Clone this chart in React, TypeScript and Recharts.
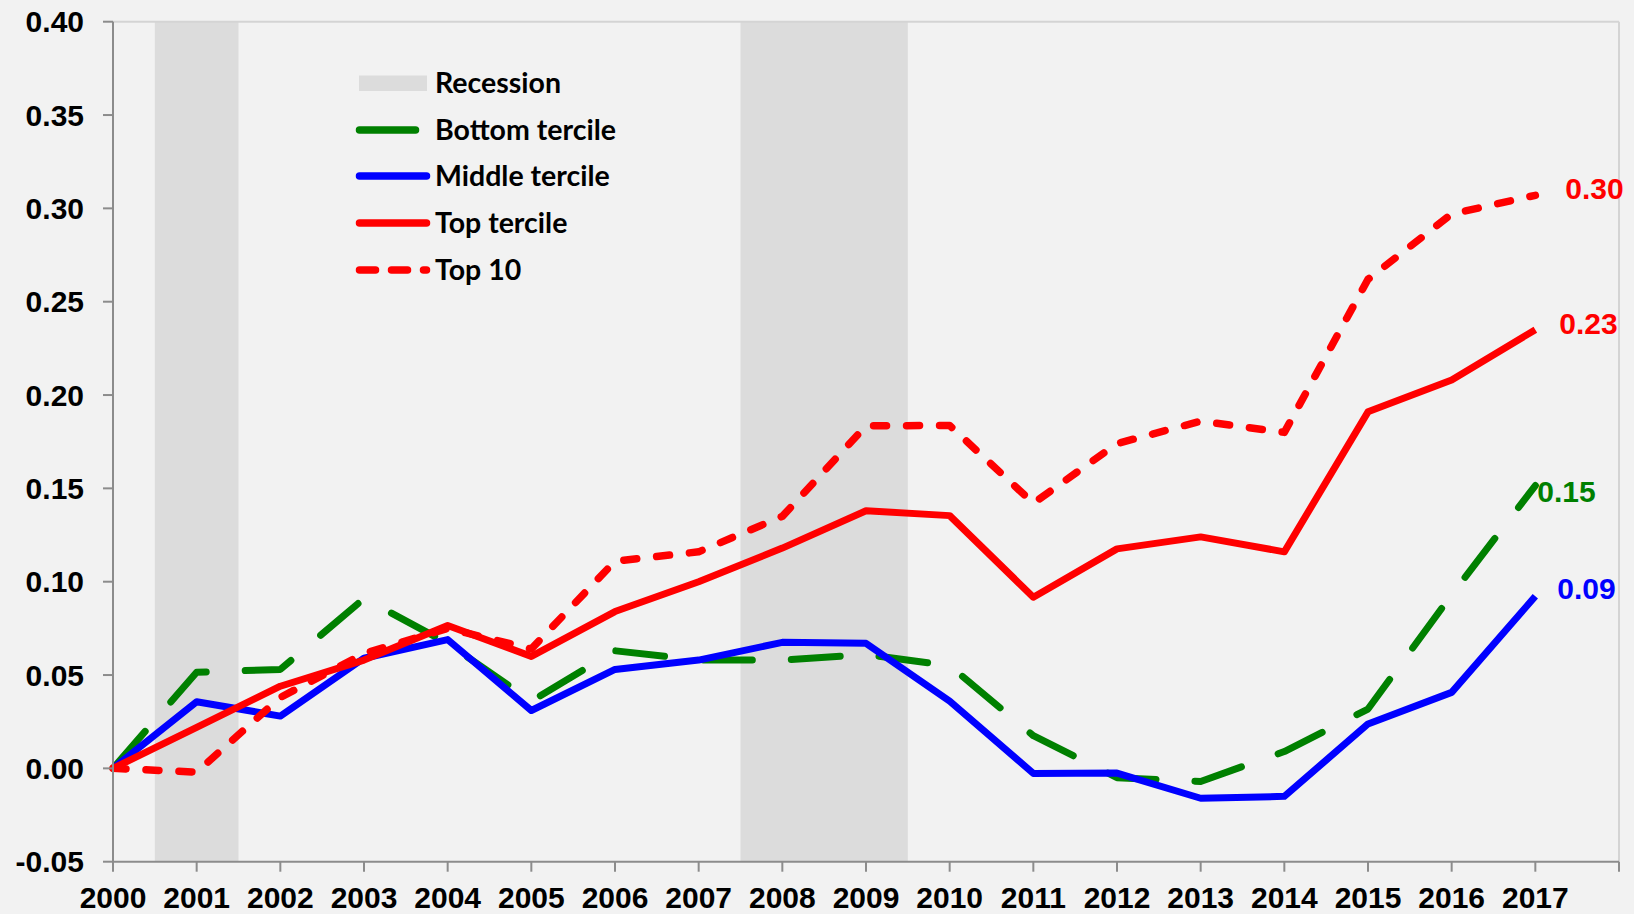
import React from 'react';
import { LineChart, Line, XAxis, YAxis, ReferenceArea, ReferenceLine } from 'recharts';

const years = [2000, 2001, 2002, 2003, 2004, 2005, 2006, 2007, 2008, 2009, 2010, 2011, 2012, 2013, 2014, 2015, 2016, 2017];
const bottomTercile = [0, 0.0515, 0.053, 0.091, 0.067, 0.036, 0.063, 0.058, 0.058, 0.061, 0.055, 0.0175, -0.005, -0.007, 0.009, 0.0318, 0.093, 0.1515];
const middleTercile = [0, 0.0357, 0.028, 0.059, 0.069, 0.031, 0.053, 0.058, 0.0675, 0.067, 0.036, -0.0027, -0.0025, -0.016, -0.015, 0.0238, 0.0407, 0.0922];
const topTercile = [0, 0.022, 0.044, 0.058, 0.0765, 0.060, 0.084, 0.100, 0.118, 0.138, 0.1354, 0.0917, 0.1176, 0.124, 0.116, 0.191, 0.208, 0.235];
const top10 = [0, -0.002, 0.038, 0.0615, 0.075, 0.064, 0.111, 0.116, 0.135, 0.1835, 0.1837, 0.142, 0.174, 0.186, 0.180, 0.262, 0.297, 0.307];

const xTicks = [2000, 2001, 2002, 2003, 2004, 2005, 2006, 2007, 2008, 2009, 2010, 2011, 2012, 2013, 2014, 2015, 2016, 2017, 2018];
const yTicks = [-0.05, 0, 0.05, 0.1, 0.15, 0.2, 0.25, 0.3, 0.35, 0.4];
const recessions = [[2000.5, 2001.5], [2007.5, 2009.5]];

const seriesNames = ['Bottom tercile', 'Middle tercile', 'Top tercile', 'Top 10'];
const endLabels = ['0.15', '0.09', '0.23', '0.30'];

const data = years.map((y, i) => ({
  year: y,
  bottom: bottomTercile[i],
  middle: middleTercile[i],
  top: topTercile[i],
  top10: top10[i],
}));

const GREEN = '#008000';
const BLUE = '#0000ff';
const RED = '#ff0000';
const AXIS = '#8c8c8c';
const BG = '#f2f2f2';
const REC = '#dcdcdc';
const tickFont = { fontFamily: '"Liberation Sans", Arial, sans-serif', fontWeight: 700, fontSize: 30, fill: '#000' };

const endLabelStyle: Record<string, { dx: number; dy: number; color: string; text: string }> = {
  bottom: { dx: 2, dy: 6, color: GREEN, text: endLabels[0] },
  middle: { dx: 22, dy: -8, color: BLUE, text: endLabels[1] },
  top: { dx: 24, dy: -6, color: RED, text: endLabels[2] },
  top10: { dx: 30, dy: -7, color: RED, text: endLabels[3] },
};

const makeLabel = (key: string) => (props: any) => {
  const { x, y, index } = props;
  if (index !== years.length - 1) return <g key={`l-${key}-${index}`} />;
  const s = endLabelStyle[key];
  return (
    <text key={`l-${key}-${index}`} x={x + s.dx} y={y + s.dy} dy="0.355em" textAnchor="start"
      fontFamily='"Liberation Sans", Arial, sans-serif' fontWeight={700} fontSize={30} fill={s.color}>
      {s.text}
    </text>
  );
};

const legendRows = [
  { name: 'Recession', kind: 'rect', y: 83 },
  { name: seriesNames[0], kind: 'green', y: 130 },
  { name: seriesNames[1], kind: 'blue', y: 176 },
  { name: seriesNames[2], kind: 'red', y: 223 },
  { name: seriesNames[3], kind: 'reddash', y: 270 },
];

function LegendOverlay() {
  return (
    <svg width={1634} height={914} style={{ position: 'absolute', left: 0, top: 0, pointerEvents: 'none' }}>
      {legendRows.map((r) => (
        <g key={r.name}>
          {r.kind === 'rect' && <rect x={359} y={r.y - 7.5} width={68} height={15.5} fill={REC} />}
          {r.kind === 'green' && <line x1={359.5} x2={415.5} y1={r.y} y2={r.y} stroke={GREEN} strokeWidth={7.5} strokeLinecap="round" />}
          {r.kind === 'blue' && <line x1={359.5} x2={426.5} y1={r.y} y2={r.y} stroke={BLUE} strokeWidth={7.5} strokeLinecap="round" />}
          {r.kind === 'red' && <line x1={359.5} x2={426.5} y1={r.y} y2={r.y} stroke={RED} strokeWidth={7.5} strokeLinecap="round" />}
          {r.kind === 'reddash' && <line x1={359.5} x2={426.5} y1={r.y} y2={r.y} stroke={RED} strokeWidth={7.5} strokeLinecap="round" strokeDasharray="16 16" />}
          <text x={435} y={r.y} dy="0.36em" fontFamily="Lato, 'Open Sans', sans-serif" fontWeight={700} fontSize={28.5} fill="#000">
            {r.name}
          </text>
        </g>
      ))}
    </svg>
  );
}

export default function App() {
  return (
    <div style={{ position: 'absolute', left: 0, top: 0, width: 1634, height: 914, background: BG, overflow: 'hidden' }}>
      <LineChart width={1634} height={914} data={data} margin={{ top: 21.7, right: 15, left: 0, bottom: 0 }}>
        {recessions.map(([a, b], i) => (
          <ReferenceArea key={`rec${i}`} x1={a} x2={b} y1={-0.05} y2={0.4} fill={REC} fillOpacity={1} stroke="none" ifOverflow="hidden" />
        ))}
        <ReferenceLine y={0.4} stroke="#d4d4d4" strokeWidth={2} />
        <ReferenceLine x={2018} stroke="#d4d4d4" strokeWidth={2} />
        <XAxis
          dataKey="year"
          type="number"
          domain={[2000, 2018]}
          ticks={xTicks}
          interval={0}
          tickFormatter={(v: number) => (v === 2018 ? '' : String(v))}
          height={52.3}
          tickSize={10}
          tickMargin={15}
          stroke={AXIS}
          strokeWidth={2}
          tickLine={{ stroke: AXIS, strokeWidth: 2 }}
          tick={tickFont}
          allowDecimals={false}
        />
        <YAxis
          type="number"
          domain={[-0.05, 0.4]}
          ticks={yTicks}
          interval={0}
          tickFormatter={(v: number) => v.toFixed(2)}
          width={113}
          tickSize={10}
          tickMargin={19}
          stroke={AXIS}
          strokeWidth={2}
          tickLine={{ stroke: AXIS, strokeWidth: 2 }}
          tick={tickFont}
        />
        <Line dataKey="bottom" name={seriesNames[0]} stroke={GREEN} strokeWidth={7} strokeDasharray="49 39" strokeLinecap="round" strokeLinejoin="round" dot={false} isAnimationActive={false} label={makeLabel('bottom')} />
        <Line dataKey="middle" name={seriesNames[1]} stroke={BLUE} strokeWidth={7} strokeLinejoin="round" dot={false} isAnimationActive={false} label={makeLabel('middle')} />
        <Line dataKey="top" name={seriesNames[2]} stroke={RED} strokeWidth={7} strokeLinejoin="round" dot={false} isAnimationActive={false} label={makeLabel('top')} />
        <Line dataKey="top10" name={seriesNames[3]} stroke={RED} strokeWidth={7.5} strokeDasharray="13 20" strokeLinecap="round" strokeLinejoin="round" dot={false} isAnimationActive={false} label={makeLabel('top10')} />
      </LineChart>
      <LegendOverlay />
    </div>
  );
}
